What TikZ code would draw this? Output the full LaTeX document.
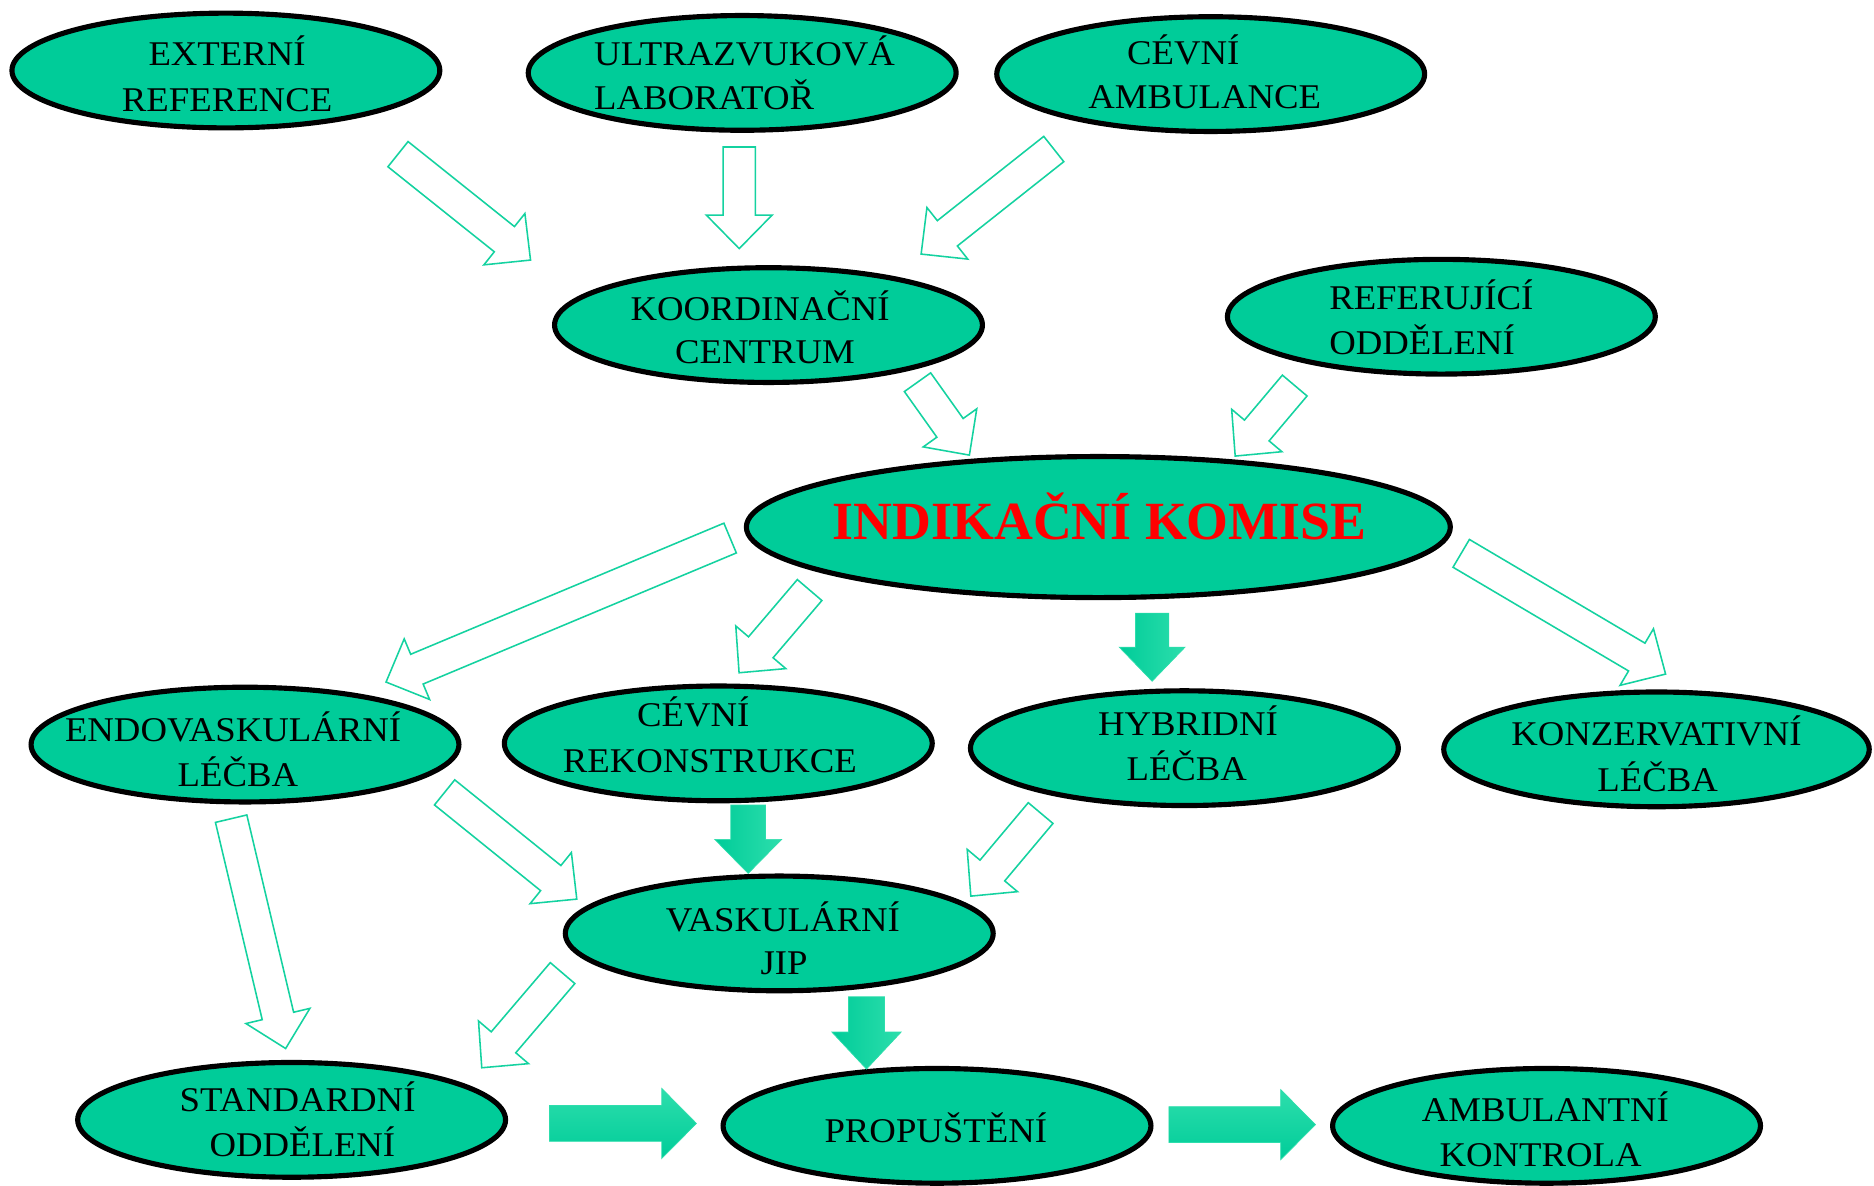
\documentclass[tikz,border=0pt]{standalone}
\usepackage{fontspec}
\setmainfont{Liberation Serif}[FakeStretch=1.06]
\newfontfamily\titlefont{Liberation Serif}
\usetikzlibrary{calc,shapes.geometric}
\definecolor{teal1}{RGB}{0,204,153}
\definecolor{teal2}{RGB}{45,222,172}
\definecolor{tealline}{RGB}{20,210,160}
\definecolor{titlered}{RGB}{255,0,0}
\tikzset{
  ell/.style={ellipse, draw=black, line width=4.3pt, fill=teal1, minimum width=358pt, minimum height=96pt, inner sep=0pt},
  lbl/.style={inner sep=0pt, anchor=base, font=\fontsize{29}{35}\selectfont},
  lblw/.style={lbl, anchor=base west},
  hollowarrow/.style={draw=tealline, line width=1.3pt, fill=white, line join=miter},
  solidarrowv/.style={draw=teal2, line width=0.6pt, left color=teal1, right color=teal2},
  solidarrowh/.style={draw=teal2, line width=0.6pt, bottom color=teal1, top color=teal2},
}
% #1 style, #2 tail, #3 tip, #4 shaft half width, #5 head half width, #6 head length
\newcommand\blockarrow[6]{%
  \coordinate (bah) at ($(#3)!#6!(#2)$);
  \draw[#1] ($(#2)!#4!90:(#3)$) -- ($(bah)!#4!90:(#3)$) -- ($(bah)!#5!90:(#3)$) -- (#3)
    -- ($(bah)!#5!-90:(#3)$) -- ($(bah)!#4!-90:(#3)$) -- ($(#2)!#4!-90:(#3)$) -- cycle;
}
\newcommand\hollow[2]{\blockarrow{hollowarrow}{#1}{#2}{13.5pt}{27.5pt}{28pt}}
\begin{document}
\begin{tikzpicture}[x=1pt,y=-1pt]
\fill[white] (0,0) rectangle (1568,992);
\useasboundingbox (0,0) rectangle (1568,992);

% ellipses
\node[ell] (ext) at (189,59) {};
\node[ell] (ult) at (621,61) {};
\node[ell] (cev) at (1013,62) {};
\node[ell] (koor) at (643,272) {};
\node[ell] (ref) at (1206,265) {};
\node[ell, minimum width=589pt, minimum height=118pt] (ind) at (919,441) {};
\node[ell] (endo) at (205,623) {};
\node[ell] (rek) at (601,622) {};
\node[ell] (hyb) at (991,626) {};
\node[ell, minimum width=356pt] (kon) at (1386,627) {};
\node[ell] (jip) at (652,781) {};
\node[ell] (std) at (244,937) {};
\node[ell] (pro) at (784,942) {};
\node[ell] (amb) at (1294,942) {};

% labels
\node[lbl] (ext-a) at (190,55) {EXTERNÍ};
\node[lbl] (ext-b) at (190,93) {REFERENCE};
\node[lblw] (ult-a) at (497,55) {ULTRAZVUKOVÁ};
\node[lblw] (ult-b) at (497,92) {LABORATOŘ};
\node[lbl] (cev-a) at (990,54) {CÉVNÍ};
\node[lbl] (cev-b) at (1008,91) {AMBULANCE};
\node[lbl] (koor-a) at (636,268) {KOORDINAČNÍ};
\node[lbl] (koor-b) at (640,304) {CENTRUM};
\node[lblw] (ref-a) at (1112,259) {REFERUJÍCÍ};
\node[lblw] (ref-b) at (1112,297) {ODDĚLENÍ};
\node[inner sep=0pt, anchor=base, text=titlered, font=\titlefont\bfseries\fontsize{45}{50}\selectfont] (ind-a) at (920,451) {INDIKAČNÍ KOMISE};
\node[lbl] (endo-a) at (195,620) {ENDOVASKULÁRNÍ};
\node[lbl] (endo-b) at (199,658) {LÉČBA};
\node[lbl] (rek-a) at (580,608) {CÉVNÍ};
\node[lbl] (rek-b) at (594,646) {REKONSTRUKCE};
\node[lbl] (hyb-a) at (994,615) {HYBRIDNÍ};
\node[lbl] (hyb-b) at (993,653) {LÉČBA};
\node[lbl] (kon-a) at (1386,624) {KONZERVATIVNÍ};
\node[lbl] (kon-b) at (1387,662) {LÉČBA};
\node[lbl] (jip-a) at (655,779) {VASKULÁRNÍ};
\node[lbl] (jip-b) at (656,815) {JIP};
\node[lbl] (std-a) at (249,930) {STANDARDNÍ};
\node[lbl] (std-b) at (253,968) {ODDĚLENÍ};
\node[lbl] (pro-a) at (783,956) {PROPUŠTĚNÍ};
\node[lbl] (amb-a) at (1293,938) {AMBULANTNÍ};
\node[lbl] (amb-b) at (1289,976) {KONTROLA};

% arrow end coordinates
\coordinate (a1t) at (333,129);    \coordinate (a1h) at (443.9,217.6);
\coordinate (a2t) at (618.5,123);  \coordinate (a2h) at (618.5,208);
\coordinate (a3t) at (881.7,124.7);\coordinate (a3h) at (770.7,212.6);
\coordinate (a4t) at (767.7,319.8);\coordinate (a4h) at (811.1,380.8);
\coordinate (a5t) at (1083.3,322.6);\coordinate (a5h) at (1033.5,381.6);
\coordinate (a6t) at (610.9,450.2);\coordinate (a6h) at (323,570.7);
\coordinate (a7t) at (677.4,493.7);\coordinate (a7h) at (618.4,562.9);
\coordinate (a9t) at (1222.6,463); \coordinate (a9h) at (1393.6,564);
\coordinate (a10t) at (193.4,685); \coordinate (a10h) at (239,877.3);
\coordinate (a11t) at (372,663);   \coordinate (a11h) at (482.6,752.3);
\coordinate (a13t) at (870.7,680.3);\coordinate (a13h) at (812.3,749.8);
\coordinate (a14t) at (470.7,814.2);\coordinate (a14h) at (403.1,893.4);
\coordinate (a8t) at (964,513);    \coordinate (a8h) at (964,570);
\coordinate (a12t) at (626,673.6); \coordinate (a12h) at (626,730.8);
\coordinate (a15t) at (725,834);   \coordinate (a15h) at (725,894.5);
\coordinate (a16t) at (459.7,940); \coordinate (a16h) at (582.7,940);
\coordinate (a17t) at (978,941);   \coordinate (a17h) at (1100.6,941);

% hollow arrows
\hollow{a1t}{a1h}
\hollow{a2t}{a2h}
\hollow{a3t}{a3h}
\hollow{a4t}{a4h}
\hollow{a5t}{a5h}
\hollow{a6t}{a6h}
\hollow{a7t}{a7h}
\hollow{a9t}{a9h}
\hollow{a10t}{a10h}
\hollow{a11t}{a11h}
\hollow{a13t}{a13h}
\hollow{a14t}{a14h}

% solid arrows
\blockarrow{solidarrowv}{a8t}{a8h}{14pt}{27.5pt}{28.5pt}
\blockarrow{solidarrowv}{a12t}{a12h}{14.5pt}{28pt}{28.5pt}
\blockarrow{solidarrowv}{a15t}{a15h}{15pt}{29pt}{31pt}
\blockarrow{solidarrowh}{a16t}{a16h}{15pt}{29.3pt}{29pt}
\blockarrow{solidarrowh}{a17t}{a17h}{15pt}{29.3pt}{29pt}
\end{tikzpicture}
\end{document}
